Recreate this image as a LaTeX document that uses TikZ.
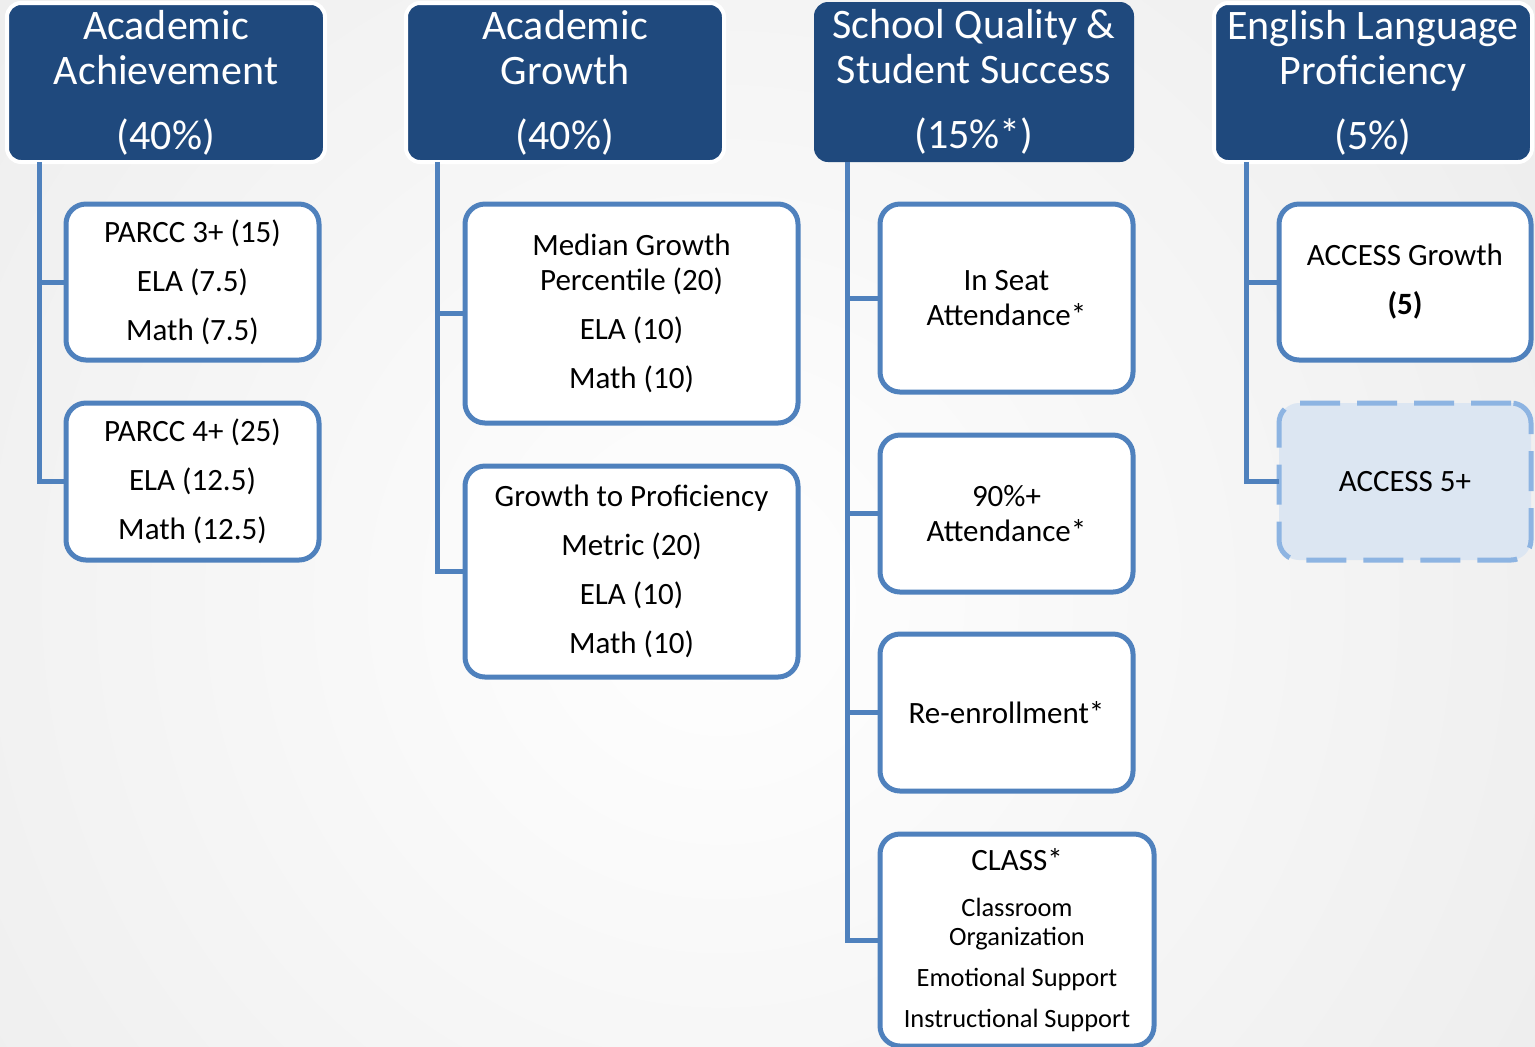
\documentclass[tikz,border=0pt]{standalone}
\usepackage{fontspec}
\setmainfont{Carlito}
\definecolor{hdrblue}{HTML}{1F497D}
\definecolor{lineblue}{HTML}{4F81BD}
\definecolor{palefill}{HTML}{DCE6F2}
\definecolor{paleline}{HTML}{8DB4E2}
\definecolor{bggray}{HTML}{DCDCDC}

\begin{document}
\begin{tikzpicture}[x=0.5pt,y=-0.5pt,
  sz/.style 2 args={minimum width=#1*0.5pt,minimum height=#2*0.5pt},
  header/.style={rectangle, rounded corners=7pt, fill=hdrblue, text=white,
    draw=white, line width=2pt, align=center, inner sep=0pt, outer sep=0pt,
    font=\fontsize{21}{22.5}\selectfont},
  item/.style={rectangle, rounded corners=10pt, fill=white, draw=lineblue,
    line width=2.5pt, align=center, inner sep=0pt, outer sep=0pt,
    font=\fontsize{15.5}{24.5}\selectfont},
  optional/.style={item, fill=palefill, draw=paleline, dash pattern=on 20pt off 8.5pt},
  conn/.style={draw=lineblue, line width=2.5pt}]

% page and soft background
\useasboundingbox (0,0) rectangle (1535,1046);
\begin{scope}
  \clip (0,0) rectangle (1535,1046);
  \shade[inner color=white, outer color=bggray] (-1180,-1300) rectangle (2620,2500);
\end{scope}

% category headers
\node[header, sz={318}{159}] (H1) at (166,82.5) {Academic\\Achievement\\[10pt](40\%)};
\node[header, sz={318}{159}] (H2) at (565,82.5) {Academic\\Growth\\[10pt](40\%)};
\node[header, draw=none, sz={320}{160}] (H3) at (974,82) {School Quality \&\\Student Success\\[10pt](15\%*)};
\node[header, sz={318}{159}] (H4) at (1373,82.5) {English Language\\Proficiency\\[10pt](5\%)};

% academic achievement
\node[item, sz={253}{156}] (A1) at (192.5,282) {PARCC 3+ (15)\\ELA (7.5)\\Math (7.5)};
\node[item, sz={253}{157}] (A2) at (192.5,481.5) {PARCC 4+ (25)\\ELA (12.5)\\Math (12.5)};

% academic growth
\node[item, sz={333}{219}] (G1) at (631.5,313.5) {Median Growth\\[-7pt]Percentile (20)\\ELA (10)\\Math (10)};
\node[item, sz={333}{211}] (G2) at (631.5,571.5) {Growth to Proficiency\\Metric (20)\\ELA (10)\\Math (10)};

% school quality & student success
\node[item, sz={253}{188}] (Q1) at (1006.5,298) {In Seat\\[-7pt]Attendance*};
\node[item, sz={253}{157}] (Q2) at (1006.5,513.5) {90\%+\\[-7pt]Attendance*};
\node[item, sz={253}{157}] (Q3) at (1006.5,712.5) {Re-enrollment*};
\node[item, sz={274}{212}, font=\fontsize{13.2}{14.5}\selectfont] (Q4) at (1017,940)
  {{\fontsize{15.5}{18}\selectfont CLASS*}\\[8.25pt]Classroom\\Organization\\[6pt]Emotional Support\\[6pt]Instructional Support};

% english language proficiency
\node[item, sz={252}{156}] (E1) at (1405,282) {ACCESS Growth\\\textbf{(5)}};
\node[optional, sz={252}{157}] (E2) at (1405,481.5) {ACCESS 5+};

% connectors
\draw[conn] ([xshift=16pt]H1.south west) |- (A1.west);
\draw[conn] ([xshift=16pt]H1.south west) |- (A2.west);
\draw[conn] ([xshift=15.5pt]H2.south west) |- (G1.west);
\draw[conn] ([xshift=15.5pt]H2.south west) |- (G2.west);
\draw[conn] ([xshift=16.5pt]H3.south west) |- (Q1.west);
\draw[conn] ([xshift=16.5pt]H3.south west) |- (Q2.west);
\draw[conn] ([xshift=16.5pt]H3.south west) |- (Q3.west);
\draw[conn] ([xshift=16.5pt]H3.south west) |- (Q4.west);
\draw[conn] ([xshift=16pt]H4.south west) |- (E1.west);
\draw[conn] ([xshift=16pt]H4.south west) |- (E2.west);
\end{tikzpicture}
\end{document}
